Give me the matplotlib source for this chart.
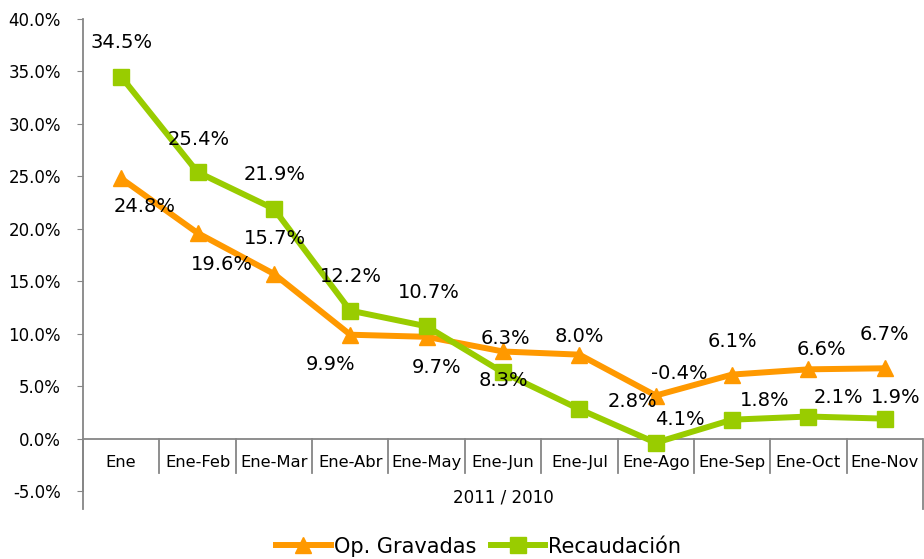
import matplotlib.pyplot as plt
import numpy as np

plt.rcParams['font.family'] = ['DejaVu Sans']

categories = ['Ene', 'Ene-Feb', 'Ene-Mar', 'Ene-Abr', 'Ene-May', 'Ene-Jun',
              'Ene-Jul', 'Ene-Ago', 'Ene-Sep', 'Ene-Oct', 'Ene-Nov']
op_gravadas = [24.8, 19.6, 15.7, 9.9, 9.7, 8.3, 8.0, 4.1, 6.1, 6.6, 6.7]
recaudacion = [34.5, 25.4, 21.9, 12.2, 10.7, 6.3, 2.8, -0.4, 1.8, 2.1, 1.9]
y_ticks = [-5, 0, 5, 10, 15, 20, 25, 30, 35, 40]
group_label = '2011 / 2010'

# label offsets in pixels (dx, dy) as placed in the original chart
off_orange = [(23, -28), (24, -32), (1, 35), (-20, -30), (10, -31), (0, -29),
              (0, 18), (24, -24), (0, 33), (13, 20), (0, 34)]
off_green = [(0, 34), (1, 33), (1, 34), (1, 34), (2, 34), (2, 34),
             (53, 8), (24, 69), (33, 19), (30, 19), (11, 21)]

orange = '#FF9900'
green = '#99CC00'
gray = '#868686'

fig = plt.figure(figsize=(9.24, 5.59), dpi=100)
ax = fig.add_axes([83 / 924, 1 - 491 / 559, 840 / 924, 472 / 559])

x = np.arange(len(categories))
ax.plot(x, op_gravadas, color=orange, lw=4.3, marker='^', ms=11.5, label='Op. Gravadas')
ax.plot(x, recaudacion, color=green, lw=4.3, marker='s', ms=11, label='Recaudación')

for xi, v, (dx, dy) in zip(x, op_gravadas, off_orange):
    ax.annotate(f'{v:.1f}%', (xi, v), xytext=(dx, dy), textcoords='offset pixels',
                ha='center', va='center', fontsize=14)
for xi, v, (dx, dy) in zip(x, recaudacion, off_green):
    ax.annotate(f'{v:.1f}%', (xi, v), xytext=(dx, dy), textcoords='offset pixels',
                ha='center', va='center', fontsize=14)

ax.set_xlim(-0.5, len(categories) - 0.5)
ax.set_ylim(-5, 40)
ax.set_yticks(y_ticks)
ax.set_yticklabels([f'{t:.1f}%' for t in y_ticks], fontsize=12)
ax.tick_params(axis='y', length=4, color=gray, pad=12)
ax.set_xticks([])
for s in ['top', 'right', 'bottom']:
    ax.spines[s].set_visible(False)
ax.spines['left'].set_color(gray)
ax.spines['left'].set_linewidth(1.3)

# category axis drawn as Excel-style boxes
ax.axhline(0, color=gray, lw=1.3, zorder=1)
for k in range(1, len(categories)):
    ax.plot([k - 0.5, k - 0.5], [0, -3.25], color=gray, lw=1.3, clip_on=False)
for edge in [-0.5, len(categories) - 0.5]:
    ax.plot([edge, edge], [0, -6.7], color=gray, lw=1.3, clip_on=False)
for xi, c in zip(x, categories):
    ax.text(xi, -2.3, c, ha='center', va='center', fontsize=11.8)
ax.text((len(categories) - 1) / 2, -5.6, group_label, ha='center', va='center',
        fontsize=12, clip_on=False)

fig.legend(loc='center', bbox_to_anchor=(0.518, 0.022), ncol=2, frameon=False,
           fontsize=15, handlelength=2.6, handletextpad=0.15, columnspacing=0.7)

fig.savefig('out.png', dpi=100)
